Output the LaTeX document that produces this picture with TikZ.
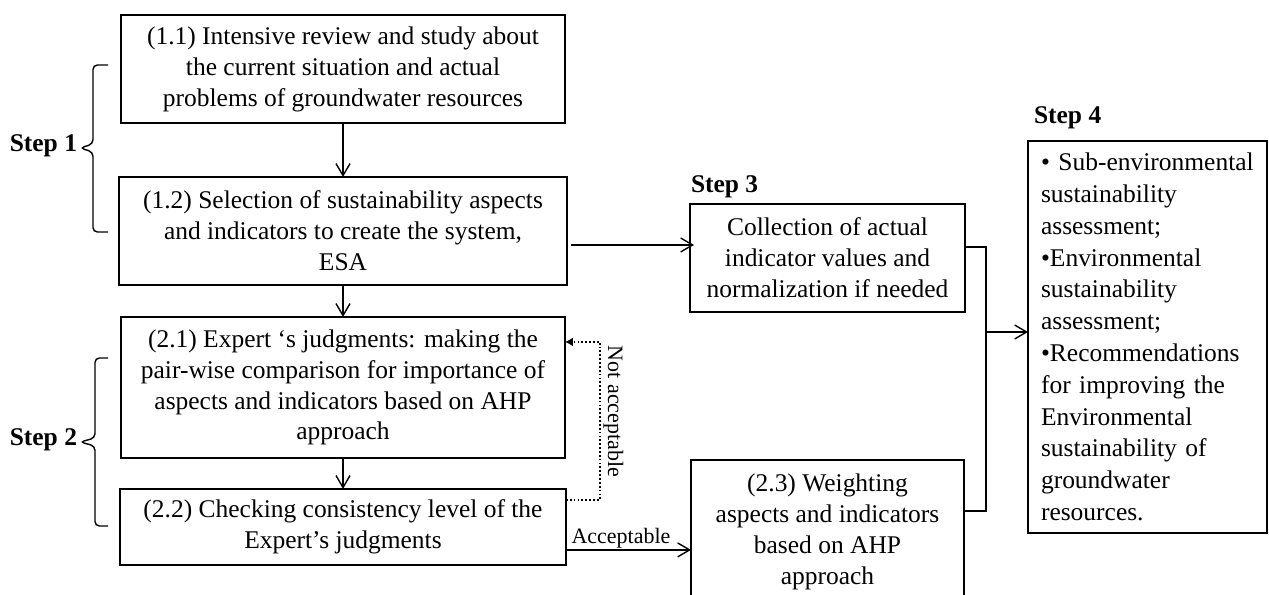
\documentclass[tikz,border=0pt]{standalone}
\usepackage{fontspec}
\setmainfont{Liberation Serif}
\usetikzlibrary{arrows.meta, positioning}

\newcommand{\boxfont}{\fontsize{14.5}{17.6}\selectfont}
\newcommand{\listfont}{\fontsize{14.5}{18.1}\selectfont}
\newcommand{\lblfont}{\fontsize{12.5}{14}\selectfont}

\begin{document}
\begin{tikzpicture}[x=0.02cm, y=-0.02cm,
every node/.style={inner sep=0pt, outer sep=0pt},
box/.style={draw, line width=0.9pt, align=center, font=\boxfont},
steplbl/.style={font=\boxfont\bfseries},
flow/.style={->, line width=0.8pt},
dotflow/.style={-{Latex[length=1.6mm,width=1.8mm]}, line width=0.9pt, dash pattern=on 1pt off 1.2pt},
curly/.style={line width=0.8pt, rounded corners=2.5pt},
>={Straight Barb[length=2.4mm,width=2.8mm]}]

  \clip (0,0) rectangle (1269,595);

  % left column
  \node[box, minimum width=8.88cm, minimum height=2.16cm] (b11) at (343,69) {(1.1) Intensive review and study about\\the current situation and actual\\problems of groundwater resources};
  \node[box, minimum width=8.96cm, minimum height=2.16cm, below=1.08cm of b11] (b12) {(1.2) Selection of sustainability aspects\\and indicators to create the system,\\ESA};
  \node[box, minimum width=8.88cm, minimum height=2.82cm, below=0.64cm of b12] (b21) {(2.1) Expert ‘s judgments: making the\\pair-wise comparison for importance of\\aspects and indicators based on AHP\\approach};
  \node[box, minimum width=8.92cm, minimum height=1.52cm, below=0.62cm of b21] (b22) {(2.2) Checking consistency level of the\\Expert’s judgments};

  % right part
  \node[box, minimum width=5.5cm, minimum height=2.16cm] (b3) at (827.5,258) {Collection of actual\\indicator values and\\normalization if needed};
  \node[box, minimum width=5.46cm, minimum height=2.86cm] (b23) at (827.5,531.5) {(2.3) Weighting\\aspects and indicators\\based on AHP\\approach};
  \node[box, minimum width=4.78cm, minimum height=7.84cm, align=left, font=\listfont,
        text width=4.78cm-14.8pt, inner xsep=7.4pt] (b4) at (1147.5,337) {• Sub-environmental\\sustainability\\assessment;\\•Environmental\\sustainability\\assessment;\\•Recommendations\\for improving the\\Environmental\\sustainability of\\groundwater\\resources.};

  % steps
  \node[steplbl, anchor=east] (s1) at (77,146) {Step 1};
  \node[steplbl, anchor=east] (s2) at (77,440) {Step 2};
  \node[steplbl, anchor=west] (s3) at (691,187) {Step 3};
  \node[steplbl, anchor=west] (s4) at (1034,118) {Step 4};
  \draw[curly] (108,65) -- (93,65) -- (93,144) -- (80,148) -- (93,152) -- (93,232) -- (108,232);
  \draw[curly] (108,358) -- (95,358) -- (95,438) -- (80,442) -- (95,446) -- (95,526) -- (108,526);

  \draw[flow] (b11.south) -- (b11.south |- b12.north);
  \draw[flow] (b12.south) -- (b12.south |- b21.north);
  \draw[flow] (b21.south) -- (b21.south |- b22.north);
  \draw[flow] ([shift={(4,14)}]b12.east) -- ([shift={(4,14)}]b12.east -| b3.west);

  \draw[flow] ([shift={(0,23)}]b22.east) -- node[pos=0.44, above=1pt, font=\lblfont] {Acceptable} ([shift={(0,23)}]b22.east -| b23.west);
  \draw[dotflow] ([shift={(0,-27)}]b22.east) -- ++(34,0) |- node[pos=0.28, rotate=-90, anchor=south, inner sep=2pt, font=\lblfont] {Not acceptable} ([shift={(0,-45.5)}]b21.east);

  \coordinate (join) at (986,332);
  \draw[line width=0.8pt] ([shift={(0,-11)}]b3.east) -| (join);
  \draw[line width=0.8pt] ([shift={(0,-20.5)}]b23.east) -| (join);
  \draw[flow] (join) -- (join -| b4.west);

\end{tikzpicture}
\end{document}
